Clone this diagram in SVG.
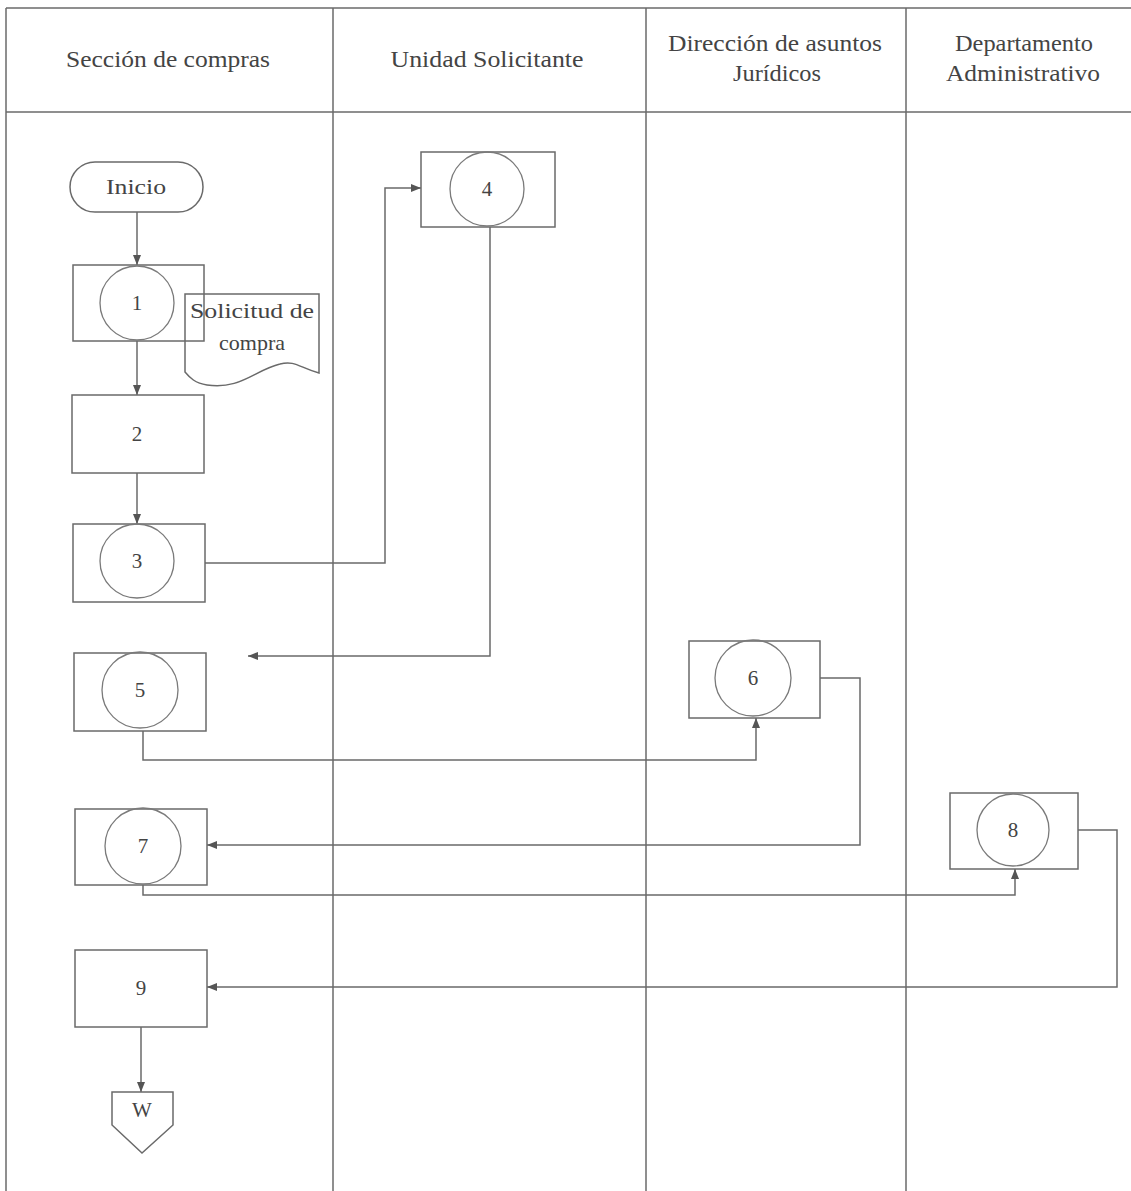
<svg xmlns="http://www.w3.org/2000/svg" width="1131" height="1191" viewBox="0 0 1131 1191">
<style>
.ln{fill:none;stroke:#6a6a6a;stroke-width:1.5}
.sh{fill:#fff;stroke:#6a6a6a;stroke-width:1.5}
.ci{fill:none;stroke:#7a7a7a;stroke-width:1.3}
.tx{font-family:"Liberation Serif","Times New Roman",serif;fill:#444;text-anchor:middle}
.hd{font-size:23px}
.nm{font-size:21px}
.cn{fill:none;stroke:#6a6a6a;stroke-width:1.5;marker-end:url(#ah)}
</style>
<defs>
<marker id="ah" viewBox="0 0 10 10" refX="10" refY="5" markerWidth="10" markerHeight="10" markerUnits="userSpaceOnUse" orient="auto">
<path d="M0,1 L10,5 L0,9 Z" fill="#555"/>
</marker>
</defs>
<rect width="1131" height="1191" fill="#fff"/>
<g id="table">
<line class="ln" x1="6" y1="8" x2="1131" y2="8"/>
<line class="ln" x1="6" y1="112" x2="1131" y2="112"/>
<line class="ln" x1="6" y1="8" x2="6" y2="1191"/>
<line class="ln" x1="333" y1="8" x2="333" y2="1191"/>
<line class="ln" x1="646" y1="8" x2="646" y2="1191"/>
<line class="ln" x1="906" y1="8" x2="906" y2="1191"/>
<text class="tx hd" x="168" y="67" textLength="204" lengthAdjust="spacingAndGlyphs">Sección de compras</text>
<text class="tx hd" x="487" y="67" textLength="193" lengthAdjust="spacingAndGlyphs">Unidad Solicitante</text>
<text class="tx hd" x="775" y="51" textLength="214" lengthAdjust="spacingAndGlyphs">Dirección de asuntos</text>
<text class="tx hd" x="777" y="81" textLength="88" lengthAdjust="spacingAndGlyphs">Jurídicos</text>
<text class="tx hd" x="1024" y="51" textLength="138" lengthAdjust="spacingAndGlyphs">Departamento</text>
<text class="tx hd" x="1023" y="81" textLength="154" lengthAdjust="spacingAndGlyphs">Administrativo</text>
</g>
<g id="connectors">
<path class="cn" d="M137,212 V265"/>
<path class="cn" d="M137,341 V395"/>
<path class="cn" d="M137,473 V524"/>
<path class="cn" d="M205,563 H385 V188 H421"/>
<path class="cn" d="M490,227 V656 H248"/>
<path class="cn" d="M143,731 V760 H756 V718"/>
<path class="cn" d="M820,678 H860 V845 H207"/>
<path class="cn" d="M143,885 V895 H1015 V869"/>
<path class="cn" d="M1078,830 H1117 V987 H207"/>
<path class="cn" d="M141,1027 V1092"/>
</g>
<g id="inicio">
<rect class="sh" x="70" y="162" width="133" height="50" rx="25"/>
<text class="tx nm" x="136" y="194" textLength="60" lengthAdjust="spacingAndGlyphs">Inicio</text>
</g>
<g id="n1">
<rect class="sh" x="73" y="265" width="131" height="76"/>
<circle class="ci" cx="137" cy="303" r="37"/>
<text class="tx nm" x="137" y="310">1</text>
</g>
<g id="doc">
<path class="ln" d="M185,294 H319 V373 C300,368 295,360 280,364 C255,370 240,390 207,385 C195,383 190,378 185,372 Z"/>
<text class="tx nm" x="252" y="318" textLength="124" lengthAdjust="spacingAndGlyphs">Solicitud de</text>
<text class="tx nm" x="252" y="350" textLength="66" lengthAdjust="spacingAndGlyphs">compra</text>
</g>
<g id="n2">
<rect class="sh" x="72" y="395" width="132" height="78"/>
<text class="tx nm" x="137" y="441">2</text>
</g>
<g id="n3">
<rect class="sh" x="73" y="524" width="132" height="78"/>
<circle class="ci" cx="137" cy="561" r="37"/>
<text class="tx nm" x="137" y="568">3</text>
</g>
<g id="n4">
<rect class="sh" x="421" y="152" width="134" height="75"/>
<circle class="ci" cx="487" cy="189" r="37"/>
<text class="tx nm" x="487" y="196">4</text>
</g>
<g id="n5">
<rect class="sh" x="74" y="653" width="132" height="78"/>
<circle class="ci" cx="140" cy="690" r="38"/>
<text class="tx nm" x="140" y="697">5</text>
</g>
<g id="n6">
<rect class="sh" x="689" y="641" width="131" height="77"/>
<circle class="ci" cx="753" cy="678" r="38"/>
<text class="tx nm" x="753" y="685">6</text>
</g>
<g id="n7">
<rect class="sh" x="75" y="809" width="132" height="76"/>
<circle class="ci" cx="143" cy="846" r="38"/>
<text class="tx nm" x="143" y="853">7</text>
</g>
<g id="n8">
<rect class="sh" x="950" y="793" width="128" height="76"/>
<circle class="ci" cx="1013" cy="830" r="36"/>
<text class="tx nm" x="1013" y="837">8</text>
</g>
<g id="n9">
<rect class="sh" x="75" y="950" width="132" height="77"/>
<text class="tx nm" x="141" y="995">9</text>
</g>
<g id="w">
<path class="sh" d="M112,1092 H173 V1125 L142,1153 L112,1125 Z"/>
<text class="tx nm" x="142" y="1117">W</text>
</g>
</svg>
